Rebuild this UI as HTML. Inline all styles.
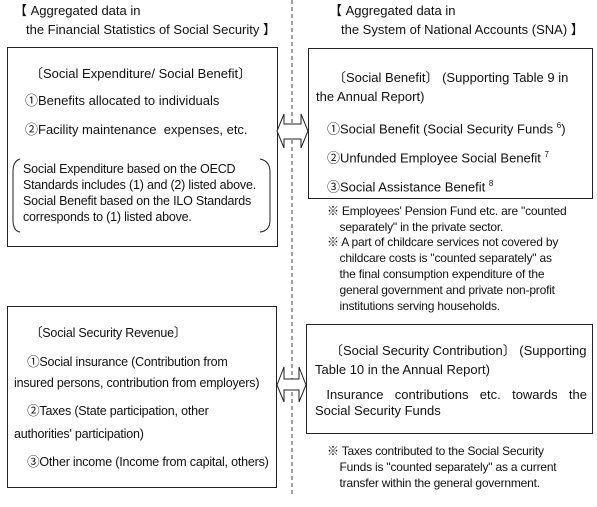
<!DOCTYPE html>
<html><head><meta charset="utf-8"><style>
html,body{margin:0;padding:0;background:#fff;}
body{width:597px;height:507px;position:relative;overflow:hidden;font-family:"Liberation Sans","Noto Sans CJK JP",sans-serif;color:#111;}
.t{position:absolute;white-space:nowrap;font-size:13px;line-height:16px;}
.s{font-size:12px;line-height:16px;letter-spacing:-0.2px;}
.m{font-size:12.5px;line-height:16px;letter-spacing:-0.2px;}
.box{position:absolute;border:1px solid #222;background:#fff;}
sup{font-size:8px;}
</style></head><body>
<svg width="597" height="507" style="position:absolute;left:0;top:0">
<line x1="292" y1="0" x2="292" y2="497" stroke="#444" stroke-width="1" stroke-dasharray="4,3"/>
</svg>
<div class="t" style="left:14px;top:3px">【 Aggregated data in</div>
<div class="t" style="left:26px;top:22px">the Financial Statistics of Social Security 】</div>
<div class="t" style="left:329px;top:3px">【 Aggregated data in</div>
<div class="t" style="left:341px;top:22px">the System of National Accounts (SNA) 】</div>

<div class="box" style="left:7px;top:47px;width:269px;height:198px"></div>
<div class="t" style="left:30px;top:66px">〔Social Expenditure/ Social Benefit〕</div>
<div class="t" style="left:25px;top:93px">①Benefits allocated to individuals</div>
<div class="t" style="left:25px;top:122px">②Facility maintenance&nbsp; expenses, etc.</div>
<svg width="597" height="507" style="position:absolute;left:0;top:0">
<path d="M20,159 Q13,161 13,172 L13,220 Q13,231 20,232" fill="none" stroke="#222"/>
<path d="M260,159 Q270,161 270,172 L270,220 Q270,231 260,232" fill="none" stroke="#222"/>
</svg>
<div class="t m" style="left:23px;top:161px">Social Expenditure based on the OECD<br>Standards includes (1) and (2) listed above.<br>Social Benefit based on the ILO Standards<br>corresponds to (1) listed above.</div>

<div class="box" style="left:308px;top:48px;width:283px;height:149px"></div>
<div class="t" style="left:333px;top:70px">〔Social Benefit〕 (Supporting Table 9 in</div>
<div class="t" style="left:316px;top:89px">the Annual Report)</div>
<div class="t" style="left:327px;top:118px">①Social Benefit (Social Security Funds <sup>6</sup>)</div>
<div class="t" style="left:327px;top:147px">②Unfunded Employee Social Benefit <sup>7</sup></div>
<div class="t" style="left:327px;top:176px">③Social Assistance Benefit <sup>8</sup></div>
<div class="t s" style="left:327px;top:203px">※ Employees' Pension Fund etc. are "counted<br>&nbsp;&nbsp;&nbsp;&nbsp;separately" in the private sector.</div>
<div class="t s" style="left:327px;top:234px">※ A part of childcare services not covered by<br>&nbsp;&nbsp;&nbsp;&nbsp;childcare costs is "counted separately" as<br>&nbsp;&nbsp;&nbsp;&nbsp;the final consumption expenditure of the<br>&nbsp;&nbsp;&nbsp;&nbsp;general government and private non-profit<br>&nbsp;&nbsp;&nbsp;&nbsp;institutions serving households.</div>

<div class="box" style="left:7px;top:306px;width:268px;height:180px"></div>
<div class="t m" style="left:30px;top:325px">〔Social Security Revenue〕</div>
<div class="t m" style="left:14px;top:354px">&nbsp;&nbsp;&nbsp;&nbsp;①Social insurance (Contribution from</div>
<div class="t m" style="left:14px;top:375px">insured persons, contribution from employers)</div>
<div class="t m" style="left:14px;top:403px">&nbsp;&nbsp;&nbsp;&nbsp;②Taxes (State participation, other</div>
<div class="t m" style="left:14px;top:426px">authorities' participation)</div>
<div class="t m" style="left:14px;top:454px">&nbsp;&nbsp;&nbsp;&nbsp;③Other income (Income from capital, others)</div>

<div class="box" style="left:306px;top:324px;width:285px;height:108px"></div>
<div class="t" style="left:330px;top:343px">〔Social Security Contribution〕 (Supporting</div>
<div class="t" style="left:315px;top:362px">Table 10 in the Annual Report)</div>
<div class="t" style="left:315px;top:387px;width:272px;text-align:justify;white-space:normal;line-height:16px;text-align-last:left"><span style="display:block;text-align:justify;text-align-last:justify">&nbsp;Insurance contributions etc. towards the</span>Social Security Funds</div>
<div class="t s" style="left:327px;top:443px">※ Taxes contributed to the Social Security<br>&nbsp;&nbsp;&nbsp;&nbsp;Funds is "counted separately" as a current<br>&nbsp;&nbsp;&nbsp;&nbsp;transfer within the general government.</div>

<svg width="597" height="507" style="position:absolute;left:0;top:0">
<path d="M277,131 L284,114 L284,124 L301,124 L301,114 L308,131 L301,148 L301,139 L284,139 L284,148 Z" fill="#fff" stroke="#222"/>
<path d="M277,385 L284,367 L284,379 L299,379 L299,367 L306,385 L299,402 L299,390 L284,390 L284,402 Z" fill="#fff" stroke="#222"/>
</svg>
</body></html>
